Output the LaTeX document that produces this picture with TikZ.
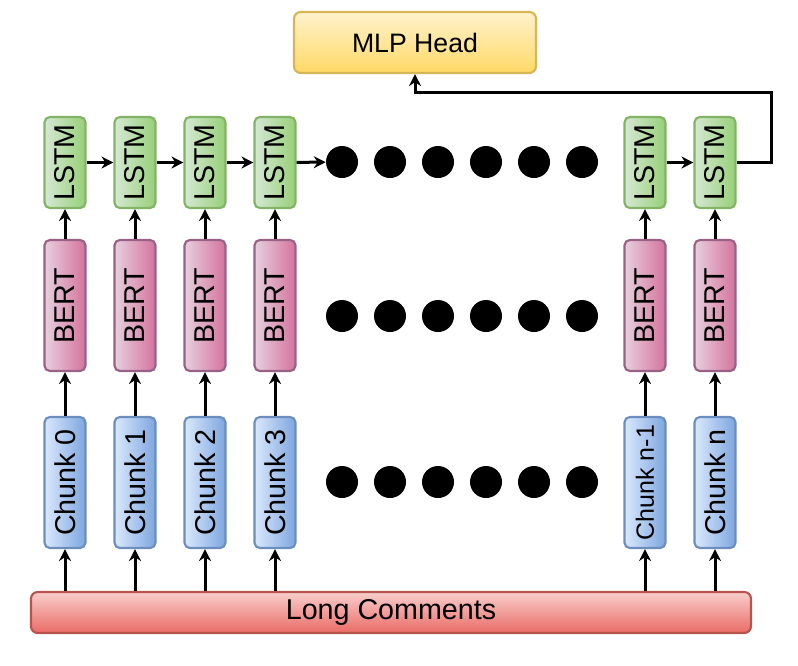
\documentclass[tikz,border=0pt]{standalone}
\usepackage{fontspec}
\setmainfont{Liberation Sans}
\usetikzlibrary{arrows.meta,shapes,positioning}

\definecolor{lstmlight}{HTML}{D5E8D4}
\definecolor{lstmdark}{HTML}{97D077}
\definecolor{lstmline}{HTML}{82B366}
\definecolor{bertlight}{HTML}{E6D0DE}
\definecolor{bertdark}{HTML}{D5739D}
\definecolor{bertline}{HTML}{996185}
\definecolor{chunklight}{HTML}{DAE8FC}
\definecolor{chunkdark}{HTML}{7EA6E0}
\definecolor{chunkline}{HTML}{6C8EBF}
\definecolor{commlight}{HTML}{F8CECC}
\definecolor{commdark}{HTML}{EA6B66}
\definecolor{commline}{HTML}{B85450}
\definecolor{headlight}{HTML}{FFF2CC}
\definecolor{headdark}{HTML}{FFD966}
\definecolor{headline}{HTML}{D6B656}

\begin{document}
\begin{tikzpicture}[
    x=0.75pt, y=-0.75pt,
    cell/.style={rectangle, line width=1.6pt, rounded corners=4pt, rotate=90, inner sep=2pt,
                 minimum height=30.75pt, font=\fontsize{21.5}{24}\selectfont},
    lstm/.style={cell, draw=lstmline, left color=lstmlight, right color=lstmdark, minimum width=68.25pt},
    bert/.style={cell, draw=bertline, left color=bertlight, right color=bertdark, minimum width=98.25pt},
    chunk/.style={cell, draw=chunkline, left color=chunklight, right color=chunkdark, minimum width=98.25pt},
    dot/.style={circle, fill=black, inner sep=0pt, minimum size=24pt},
    arr/.style={-{Stealth[length=9pt, width=9pt, inset=3pt]}, line width=2.25pt}
]
    \useasboundingbox (0,0) rectangle (798,665);

    % Head and input
    \node[rectangle, draw=headline, line width=1.6pt, rounded corners=5pt, top color=headlight,
          bottom color=headdark, minimum width=181.5pt, minimum height=45.75pt,
          font=\fontsize{20}{24}\selectfont] (head) at (415,42.5) {MLP Head};
    \node[rectangle, draw=commline, line width=1.6pt, rounded corners=5pt, top color=commlight,
          bottom color=commdark, minimum width=540pt, minimum height=30.75pt,
          font=\fontsize{21.5}{24}\selectfont] (comments) at (391,612.5) {Long Comments};

    % LSTM row
    \node[lstm] (l0) at (65,162.5) {LSTM};
    \node[lstm] (l1) at (135,162.5) {LSTM};
    \node[lstm] (l2) at (205,162.5) {LSTM};
    \node[lstm] (l3) at (275,162.5) {LSTM};
    \node[lstm] (l4) at (645,162.5) {LSTM};
    \node[lstm] (l5) at (715,162.5) {LSTM};

    % BERT row
    \node[bert] (b0) at (65,305.5) {BERT};
    \node[bert] (b1) at (135,305.5) {BERT};
    \node[bert] (b2) at (205,305.5) {BERT};
    \node[bert] (b3) at (275,305.5) {BERT};
    \node[bert] (b4) at (645,305.5) {BERT};
    \node[bert] (b5) at (715,305.5) {BERT};

    % Chunk row
    \node[chunk] (c0) at (65,482.5) {Chunk 0};
    \node[chunk] (c1) at (135,482.5) {Chunk 1};
    \node[chunk] (c2) at (205,482.5) {Chunk 2};
    \node[chunk] (c3) at (275,482.5) {Chunk 3};
    \node[chunk, font=\fontsize{18.75}{22}\selectfont] (c4) at (645,482.5) {Chunk n-1};
    \node[chunk] (c5) at (715,482.5) {Chunk n};

    % Ellipsis dots
    \foreach \x [count=\i] in {342,390,438,486,534,582} {
        \node[dot] (ld\i) at (\x,162) {};
        \node[dot] (bd\i) at (\x,316) {};
        \node[dot] (cd\i) at (\x,482) {};
    }

    % Vertical flow
    \foreach \k in {0,...,5} {
        \draw[arr] (comments.north -| c\k) -- (c\k);
        \draw[arr] (c\k) -- (b\k);
        \draw[arr] (b\k) -- (l\k);
    }

    % Recurrent links
    \draw[arr] (l0) -- (l1);
    \draw[arr] (l1) -- (l2);
    \draw[arr] (l2) -- (l3);
    \draw[arr] (l3) -- (ld1);
    \draw[arr] (l4) -- (l5);

    % Last state to the head
    \coordinate (turn) at (771,92);
    \draw[arr] (l5) -| (turn) -| (head);
\end{tikzpicture}
\end{document}
